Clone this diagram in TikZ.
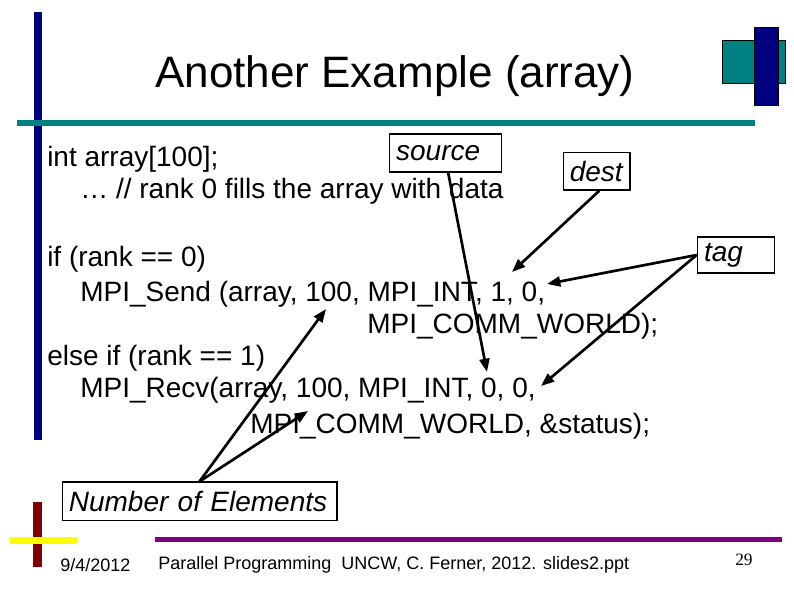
\documentclass[tikz,border=0pt]{standalone}
\usepackage{fontspec}
\setmainfont{Liberation Sans}
\newfontfamily\pagenumfont{Liberation Serif}
\usetikzlibrary{arrows.meta}

\definecolor{navybar}{RGB}{0,0,128}
\definecolor{tealbar}{RGB}{0,128,128}
\definecolor{maroonbar}{RGB}{128,0,0}
\definecolor{plumbar}{RGB}{128,0,128}
\definecolor{lemonbar}{RGB}{255,255,0}

\begin{document}
\begin{tikzpicture}[
    x=0.75pt, y=-0.75pt,
    >={Triangle[length=10pt,width=7.5pt]},
    code/.style={
        anchor=base west,
        inner sep=0pt,
        font=\fontsize{21}{24}\selectfont
    },
    note/.style={
        draw,
        line width=1pt,
        inner xsep=5pt,
        align=left,
        font=\fontsize{21}{24}\selectfont\itshape
    },
    arr/.style={
        ->,
        line width=2pt
    },
    foot/.style={
        anchor=base west,
        inner sep=0pt,
        font=\fontsize{13.5}{16}\selectfont
    }
]
    \useasboundingbox (0,0) rectangle (794,595);

    % slide frame
    \fill[navybar] (34,12) rectangle (42,440);
    \fill[tealbar] (17,120) rectangle (755,126);
    \filldraw[fill=tealbar, draw=black, line width=0.6pt] (722,40) rectangle (785,83);
    \filldraw[fill=navybar, draw=black, line width=0.6pt] (754,27) rectangle (778,105);

    \node[anchor=base, inner sep=0pt, font=\fontsize{33}{36}\selectfont] (title) at (395,88)
        {Another Example (array)};

    % code lines
    \node[code] (decl)  at (47,167)  {int array[100];};
    \node[code] (fill)  at (80,199)  {… // rank 0 fills the array with data};
    \node[code] (ifz)   at (47,267)  {if (rank == 0)};
    \node[code] (send)  at (80,302)  {MPI\_Send (array, 100, MPI\_INT, 1, 0,};
    \node[code] (sendw) at (367,334) {MPI\_COMM\_WORLD);};
    \node[code] (elif)  at (47,366)  {else if (rank == 1)};
    \node[code] (recv)  at (80,398)  {MPI\_Recv(array, 100, MPI\_INT, 0, 0,};
    \node[code] (recvw) at (250,434) {MPI\_COMM\_WORLD, \&status);};

    % labels
    \node[note, text width=74pt, minimum height=28.5pt] (source) at (445.5,153) {source};
    \node[note, text width=40pt, minimum height=28pt] (dest) at (596.5,171.5) {dest};
    \node[note, text width=48pt, minimum height=27pt] (tag) at (736,255) {tag};
    \node[note, text width=196pt, minimum height=29pt] (count) at (199.5,501.5) {Number of Elements};

    \coordinate (srcTip)  at (487,372);
    \coordinate (destTip) at (512,272);
    \coordinate (tagTipA) at (547,284);
    \coordinate (tagTipB) at (541,386);
    \coordinate (cntTipA) at (326,309);
    \coordinate (cntTipB) at (308,411);

    \draw[arr] ([xshift=2pt]source.south) -- (srcTip);
    \draw[arr] ([xshift=2pt]dest.south) -- (destTip);
    \draw[arr] (tag.west) -- (tagTipA);
    \draw[arr] (tag.west) -- (tagTipB);
    \draw[arr] (count.north) -- (cntTipA);
    \draw[arr] (count.north) -- (cntTipB);

    % footer
    \fill[maroonbar] (33,502) rectangle (42,567);
    \fill[lemonbar] (10,537) rectangle (77,544);
    \fill[plumbar] (155,537) rectangle (782,542);
    \node[foot] (date) at (60,572) {9/4/2012};
    \node[foot] (credit) at (158,570) {Parallel Programming\ \ UNCW, C. Ferner, 2012. slides2.ppt};
    \node[foot, font=\fontsize{13}{16}\selectfont\pagenumfont] (pagenum) at (735,566) {29};

\end{tikzpicture}
\end{document}
